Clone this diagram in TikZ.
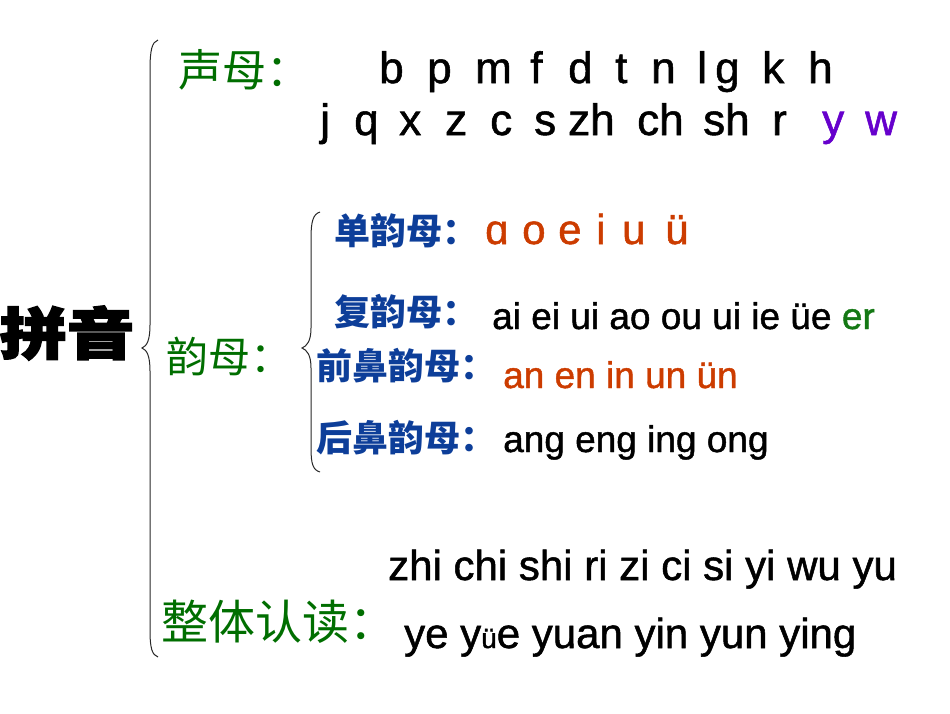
\documentclass[tikz,border=0pt]{standalone}
\usepackage{fontspec}
\setmainfont{Liberation Sans}[FakeBold=1.2]
\newfontfamily\cjk{Noto Sans CJK SC}
\newfontfamily\cjkheavy{Noto Sans CJK SC}[BoldFeatures={FakeBold=3}]
\definecolor{labgreen}{RGB}{0,110,0}
\definecolor{ergreen}{RGB}{20,120,20}
\definecolor{labblue}{RGB}{13,62,153}
\definecolor{vorange}{RGB}{204,60,0}
\definecolor{ywpurple}{RGB}{102,0,204}
\definecolor{bracegray}{RGB}{40,40,40}
\tikzset{
  lab/.style={inner sep=0pt, anchor=west},
  greenlab/.style={lab, text=labgreen},
  bluelab/.style={lab, text=labblue, font=\cjk\bfseries\fontsize{36}{40}\selectfont},
  pinyin/.style={inner sep=0pt, anchor=base west, font=\fontsize{#1}{#1}\selectfont},
  pinyin/.default=37,
  bracestyle/.style={draw=bracegray, line width=1pt}
}
\begin{document}
\begin{tikzpicture}[x=1pt,y=-1pt]
\useasboundingbox (0,0) rectangle (950,713);
% title
\node[inner sep=0pt, xscale=1.2, font=\cjkheavy\bfseries\fontsize{56}{60}\selectfont] (title) at (67,333) {拼音};
% big brace
\draw[bracestyle] (158,40) .. controls (152,42) and (150,50) .. (150,70) -- (150,325)
  .. controls (150,340) and (147,346) .. (142,348) .. controls (147,350) and (150,356) .. (150,371)
  -- (150,630) .. controls (150,648) and (152,655) .. (158,657);
% small brace
\draw[bracestyle] (320,212) .. controls (313,214) and (311,222) .. (311,238) -- (311,328)
  .. controls (311,341) and (307,346) .. (302,348) .. controls (307,350) and (311,355) .. (311,368)
  -- (311,448) .. controls (311,464) and (313,470) .. (320,472);
% 声母
\node[greenlab, font=\cjk\fontsize{44}{48}\selectfont] (shengmu) at (178,70) {声母：};
\foreach \l/\x [count=\i] in {b/381,p/429,m/477,f/532,d/570,t/617,n/653,l/699,g/717,k/764,h/810}
  \node[pinyin=44] (r1\i) at (\x-2,83) {\l};
\foreach \l/\x [count=\i] in {j/322,q/356,x/401,z/447,c/492,s/536,zh/570,ch/639,sh/705,r/774}
  \node[pinyin=44] (r2\i) at (\x-2,135) {\l};
\node[pinyin=44, text=ywpurple] (ry) at (822,135) {y};
\node[pinyin=44, text=ywpurple] (rw) at (865,135) {w};
% 韵母
\node[greenlab, font=\cjk\fontsize{42}{46}\selectfont] (yunmu) at (166,356) {韵母：};
\node[bluelab] (dan) at (334,231) {单韵母：};
\foreach \l/\x [count=\i] in {ɑ/487,o/524,e/560,i/598,u/624,ü/667}
  \node[pinyin=42, text=vorange] (v\i) at (\x-2,244) {\l};
\node[bluelab] (fu) at (334,312) {复韵母：};
\node[pinyin=37] (futxt) at (492,329) {ai ei ui ao ou ui ie üe \textcolor{ergreen}{er}};
\node[bluelab] (qian) at (316,366) {前鼻韵母：};
\node[pinyin=37, text=vorange] (qiantxt) at (503,388) {an en in un ün};
\node[bluelab] (hou) at (316,438) {后鼻韵母：};
\node[pinyin=37] (houtxt) at (503,452) {ang eng ing ong};
% 整体认读
\node[greenlab, font=\cjk\fontsize{47}{50}\selectfont] (zhengti) at (161,622) {整体认读：};
\node[pinyin=42] (zt1) at (388,580) {zhi chi shi ri zi ci si yi wu yu};
\node[pinyin=42] (zt2) at (404,648) {ye y{\fontsize{28}{30}\selectfont ü}e yuan yin yun ying};
\end{tikzpicture}
\end{document}
